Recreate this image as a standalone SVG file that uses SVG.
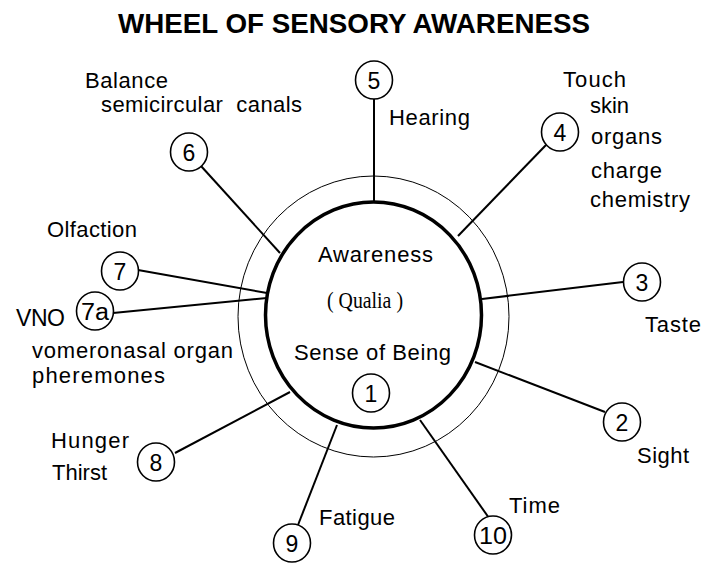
<svg xmlns="http://www.w3.org/2000/svg" width="701" height="563" viewBox="0 0 701 563">
<style>
text{font-family:"Liberation Sans",Arial,sans-serif;fill:#000}
.lbl{font-size:22px}
.num{font-size:23px;text-anchor:middle}
.nc{fill:#fff;stroke:#000;stroke-width:1.6}
.con line{stroke:#000;stroke-width:2}
</style>
<rect width="701" height="563" fill="#fff"/>
<text x="118" y="33" font-size="27" font-weight="bold" textLength="472" lengthAdjust="spacingAndGlyphs">WHEEL OF SENSORY AWARENESS</text>
<g id="wheel">
<ellipse cx="373.5" cy="316.5" rx="135.5" ry="140.5" fill="none" stroke="#000" stroke-width="1"/>
<ellipse cx="373.5" cy="315" rx="108" ry="113" fill="#fff" stroke="#000" stroke-width="3.5"/>
<text class="lbl" x="318" y="262" textLength="115" lengthAdjust="spacing">Awareness</text>
<text x="327" y="308" font-size="23" textLength="76" lengthAdjust="spacingAndGlyphs" style="font-family:'Liberation Serif','Times New Roman',serif">( Qualia )</text>
<text class="lbl" x="294" y="360" textLength="157" lengthAdjust="spacing">Sense of Being</text>
</g>
<g id="connectors" class="con">
<line x1="374" y1="99" x2="374" y2="201"/>
<line x1="546" y1="145" x2="458" y2="236"/>
<line x1="201" y1="166" x2="280" y2="253"/>
<line x1="138" y1="270" x2="267" y2="293"/>
<line x1="113" y1="313" x2="267" y2="298"/>
<line x1="623" y1="282" x2="482" y2="299"/>
<line x1="605" y1="412" x2="475" y2="362"/>
<line x1="489" y1="518" x2="420" y2="420"/>
<line x1="175" y1="453" x2="290" y2="392"/>
<line x1="298" y1="525" x2="337" y2="425"/>
</g>
<g id="n1"><ellipse class="nc" cx="371" cy="393" rx="18.5" ry="19"/><text class="num" x="371" y="401.5">1</text></g>
<g id="n2"><ellipse class="nc" cx="622" cy="422" rx="18.5" ry="19"/><text class="num" x="622" y="430.5">2</text>
<text class="lbl" x="637" y="463" textLength="52" lengthAdjust="spacing">Sight</text></g>
<g id="n3"><ellipse class="nc" cx="642" cy="282" rx="18.5" ry="19"/><text class="num" x="642" y="290.5">3</text>
<text class="lbl" x="645" y="332" textLength="56" lengthAdjust="spacing">Taste</text></g>
<g id="n4"><ellipse class="nc" cx="560" cy="132" rx="18.5" ry="19"/><text class="num" x="560" y="140.5">4</text>
<text class="lbl" x="563" y="87" textLength="63" lengthAdjust="spacing">Touch</text>
<text class="lbl" x="590" y="113" textLength="39" lengthAdjust="spacing">skin</text>
<text class="lbl" x="591" y="144" textLength="71" lengthAdjust="spacing">organs</text>
<text class="lbl" x="591" y="178" textLength="71" lengthAdjust="spacing">charge</text>
<text class="lbl" x="590" y="207" textLength="100" lengthAdjust="spacing">chemistry</text></g>
<g id="n5"><ellipse class="nc" cx="374" cy="80" rx="18.5" ry="19"/><text class="num" x="374" y="88.5">5</text>
<text class="lbl" x="389" y="125" textLength="81" lengthAdjust="spacing">Hearing</text></g>
<g id="n6"><ellipse class="nc" cx="189" cy="152" rx="18.5" ry="19"/><text class="num" x="189" y="160.5">6</text>
<text class="lbl" x="85" y="88" textLength="83" lengthAdjust="spacing">Balance</text>
<text class="lbl" x="101" y="112" textLength="201" lengthAdjust="spacing" xml:space="preserve">semicircular  canals</text></g>
<g id="n7"><ellipse class="nc" cx="120" cy="271" rx="18.5" ry="19"/><text class="num" x="120" y="279.5">7</text>
<text class="lbl" x="47" y="237" textLength="90" lengthAdjust="spacing">Olfaction</text></g>
<g id="n7a"><ellipse class="nc" cx="95" cy="311" rx="18.5" ry="19"/><text class="num" x="95" y="319.5" textLength="28" lengthAdjust="spacingAndGlyphs">7a</text>
<text x="16" y="326" font-size="23" textLength="49" lengthAdjust="spacing">VNO</text>
<text class="lbl" x="32" y="358" textLength="201" lengthAdjust="spacing">vomeronasal organ</text>
<text class="lbl" x="32" y="383" textLength="133" lengthAdjust="spacing">pheremones</text></g>
<g id="n8"><ellipse class="nc" cx="156" cy="462" rx="18.5" ry="19"/><text class="num" x="156" y="470.5">8</text>
<text class="lbl" x="51" y="448" textLength="78" lengthAdjust="spacing">Hunger</text>
<text class="lbl" x="52" y="480" textLength="55" lengthAdjust="spacing">Thirst</text></g>
<g id="n9"><ellipse class="nc" cx="292" cy="543" rx="18.5" ry="19"/><text class="num" x="292" y="551.5">9</text>
<text class="lbl" x="319" y="525" textLength="76" lengthAdjust="spacing">Fatigue</text></g>
<g id="n10"><ellipse class="nc" cx="493" cy="535" rx="18.5" ry="19"/><text class="num" x="493" y="543.5" textLength="28" lengthAdjust="spacingAndGlyphs">10</text>
<text class="lbl" x="509" y="513" textLength="51" lengthAdjust="spacing">Time</text></g>
</svg>
